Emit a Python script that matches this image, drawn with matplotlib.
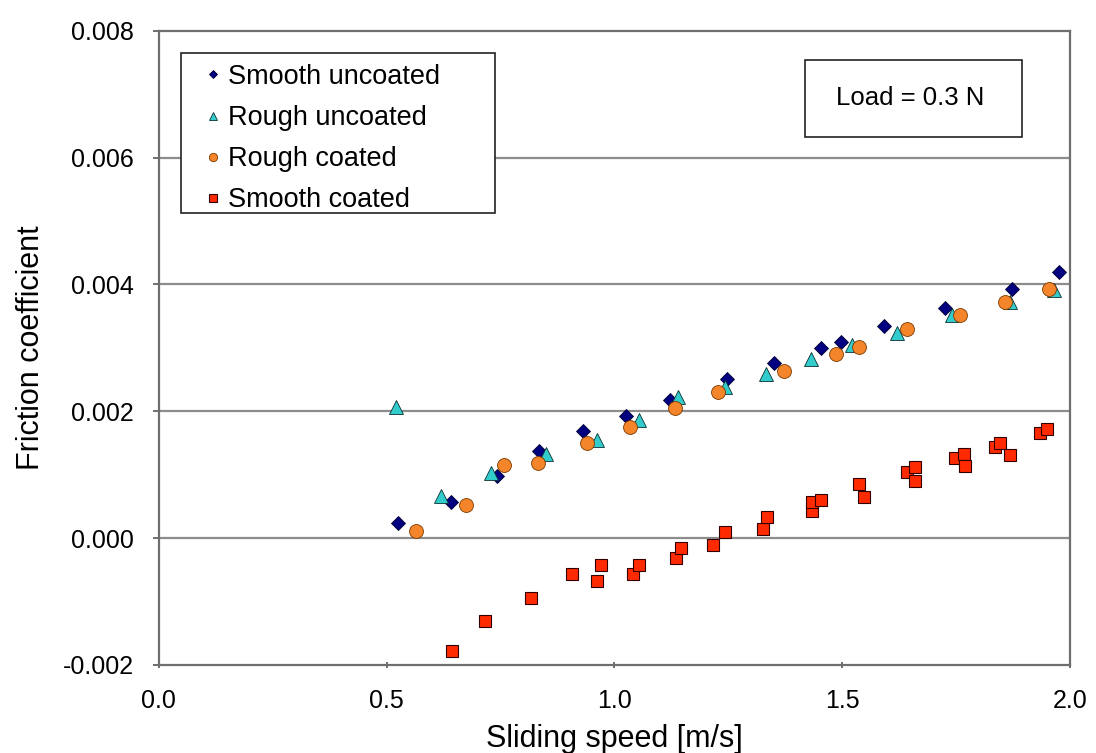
import matplotlib
matplotlib.use("Agg")
import matplotlib.pyplot as plt
from matplotlib.patches import Rectangle

plt.rcParams['font.family'] = ['Liberation Sans', 'DejaVu Sans']

# smooth uncoated (diamonds)
su_x = [0.525, 0.641, 0.742, 0.834, 0.932, 1.026, 1.123, 1.247, 1.350, 1.453, 1.497, 1.593, 1.726, 1.873, 1.976]
su_y = [0.00024, 0.00057, 0.00098, 0.00137, 0.00169, 0.00193, 0.00218, 0.00251, 0.00276, 0.00300, 0.00310, 0.00335, 0.00363, 0.00393, 0.00419]

# rough uncoated (triangles)
ru_x = [0.520, 0.619, 0.729, 0.851, 0.963, 1.055, 1.140, 1.243, 1.333, 1.431, 1.521, 1.621, 1.742, 1.869, 1.965]
ru_y = [0.00207, 0.00066, 0.00103, 0.00133, 0.00155, 0.00186, 0.00222, 0.00239, 0.00259, 0.00283, 0.00305, 0.00324, 0.00352, 0.00373, 0.00392]

# rough coated (circles)
rc_x = [0.565, 0.674, 0.757, 0.832, 0.941, 1.035, 1.133, 1.228, 1.372, 1.486, 1.538, 1.643, 1.759, 1.858, 1.954]
rc_y = [0.00011, 0.00052, 0.00115, 0.00118, 0.00150, 0.00175, 0.00205, 0.00231, 0.00264, 0.00291, 0.00302, 0.00330, 0.00352, 0.00373, 0.00393]

# smooth coated (squares)
sc_x = [0.643, 0.717, 0.818, 0.908, 0.961, 0.971, 1.042, 1.055, 1.136, 1.147, 1.217, 1.243,
        1.326, 1.335, 1.435, 1.435, 1.453, 1.538, 1.549, 1.643, 1.661, 1.661,
        1.748, 1.768, 1.770, 1.836, 1.847, 1.869, 1.934, 1.950]
sc_y = [-0.00178, -0.00130, -0.00095, -0.00057, -0.00068, -0.00043, -0.00057, -0.00043, -0.00032, -0.00016, -0.00011, 0.00009,
        0.00014, 0.00033, 0.00043, 0.00057, 0.00060, 0.00085, 0.00065, 0.00104, 0.00112, 0.00090,
        0.00126, 0.00133, 0.00114, 0.00144, 0.00150, 0.00131, 0.00166, 0.00172]

fig = plt.figure(figsize=(10.96, 7.53), dpi=100)
ax = fig.add_axes([0.145, 0.117, 0.831, 0.842])

for y in [0.0, 0.002, 0.004, 0.006]:
    ax.axhline(y, color='#8c8c8c', lw=1.6, zorder=1)

ax.plot(su_x, su_y, 'D', ms=7.5, mfc='#000080', mec='#000030', mew=0.6, label='Smooth uncoated', zorder=3)
ax.plot(ru_x, ru_y, '^', ms=10.5, mfc='#33cccc', mec='#0a3030', mew=0.6, label='Rough uncoated', zorder=3)
ax.plot(rc_x, rc_y, 'o', ms=10, mfc='#f5852a', mec='#7a3a00', mew=0.6, label='Rough coated', zorder=3)
ax.plot(sc_x, sc_y, 's', ms=9, mfc='#ff2a00', mec='#300000', mew=0.8, label='Smooth coated', zorder=3)

ax.set_xlim(0, 2.0)
ax.set_ylim(-0.002, 0.008)
ax.set_xticks([0.0, 0.5, 1.0, 1.5, 2.0])
ax.set_xticklabels(['0.0', '0.5', '1.0', '1.5', '2.0'])
ax.set_yticks([-0.002, 0.0, 0.002, 0.004, 0.006, 0.008])
ax.set_yticklabels(['-0.002', '0.000', '0.002', '0.004', '0.006', '0.008'])
ax.tick_params(labelsize=18, length=4, color='#555555', width=1.2)
ax.tick_params(axis='x', direction='inout', pad=15)
ax.tick_params(axis='y', direction='out', pad=14)

for side in ['left', 'bottom', 'top', 'right']:
    ax.spines[side].set_color('#6e6e6e')
    ax.spines[side].set_linewidth(1.6)

ax.set_xlabel('Sliding speed [m/s]', fontsize=22, labelpad=8)
ax.set_ylabel('Friction coefficient', fontsize=22, labelpad=12)

# legend frame drawn separately so it can be wider than the text
ax.add_patch(Rectangle((0.024, 0.713), 0.345, 0.252, transform=ax.transAxes,
                       fc='white', ec='#222222', lw=1.2, zorder=4))
leg = ax.legend(loc='upper left', bbox_to_anchor=(0.040, 0.965), fontsize=19.5, markerscale=0.6,
                handlelength=0.5, handletextpad=0.3, labelspacing=0.56, borderpad=0.4,
                borderaxespad=0.0, frameon=False)
leg.set_zorder(5)

ax.add_patch(Rectangle((0.709, 0.833), 0.239, 0.121, transform=ax.transAxes,
                       fc='white', ec='#222222', lw=1.2, zorder=4))
ax.text(0.825, 0.894, 'Load = 0.3 N', transform=ax.transAxes, fontsize=18.5,
        ha='center', va='center', zorder=5)

fig.savefig('out.png', dpi=100)
